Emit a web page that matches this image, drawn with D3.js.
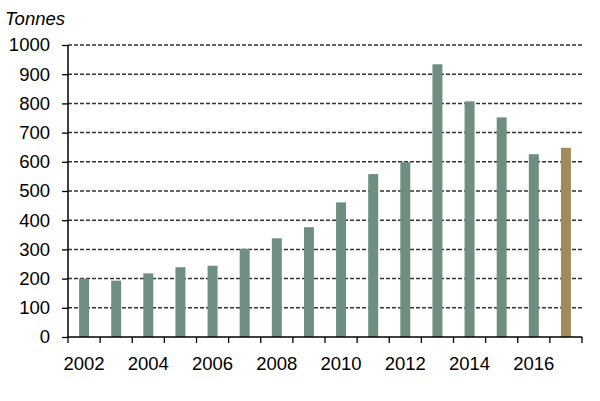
<!DOCTYPE html>
<html><head><meta charset="utf-8">
<script src="https://cdn.jsdelivr.net/npm/d3@7"></script>
<style>body{margin:0;background:#fff}svg{display:block}</style>
</head><body>
<svg id="c" width="600" height="401"></svg>
<script>
const years = [2002,2003,2004,2005,2006,2007,2008,2009,2010,2011,2012,2013,2014,2015,2016,2017];
const values = [200,193,218,239,244,302,338,376,461,558,599,934,807,752,626,648];
const highlight = [2017];
const yTicks = [0,100,200,300,400,500,600,700,800,900,1000];
const xLabels = [2002,2004,2006,2008,2010,2012,2014,2016];
const unitLabel = "Tonnes";

const svg = d3.select("#c");
const m = {l:68, r:18, t:45, b:64};
const W = 600, H = 401;
const x = d3.scaleBand().domain(years).range([m.l, W - m.r]).paddingInner(0.69).paddingOuter(0.345);
const xb = d3.scaleBand().domain(years).range([m.l, W - m.r]);
const y = d3.scaleLinear().domain([0,1000]).range([H - m.b, m.t]);
const font = "Liberation Sans, Arial, sans-serif";
const fs = 18.5;

// gridlines
svg.append("g").selectAll("line").data(yTicks.filter(d=>d>0)).join("line")
  .attr("x1", m.l).attr("x2", W - m.r)
  .attr("y1", d=>y(d)).attr("y2", d=>y(d))
  .attr("stroke", "#333").attr("stroke-width", 1.5).attr("stroke-dasharray", "4,2");

// bars
svg.append("g").selectAll("rect").data(years).join("rect")
  .attr("x", d=>x(d)).attr("width", x.bandwidth())
  .attr("y", (d,i)=>y(values[i])).attr("height", (d,i)=>y(0)-y(values[i]))
  .attr("fill", d=>highlight.includes(d) ? "#a08c5a" : "#6e8e80");

// y axis
const ya = svg.append("g").attr("transform", `translate(${m.l},0)`)
  .call(d3.axisLeft(y).tickValues(yTicks).tickSize(6).tickPadding(12).tickFormat(d3.format("d")));
ya.select(".domain").attr("stroke","#000").attr("stroke-width",1.5).attr("d", `M0,${y(0)}V${y(1000)}`);
ya.selectAll(".tick line").attr("stroke","#000").attr("stroke-width",1.3);
ya.selectAll("text").attr("font-family", font).attr("font-size", fs).attr("fill","#000");

// x axis
const xa = svg.append("g").attr("transform", `translate(0,${y(0)})`);
xa.append("line").attr("x1", m.l).attr("x2", W - m.r).attr("stroke","#000").attr("stroke-width",1.5);
const bounds = years.map(d=>xb(d)).concat([xb(years[years.length-1]) + xb.bandwidth()]);
xa.selectAll("line.t").data(bounds).join("line").attr("class","t")
  .attr("x1", d=>d).attr("x2", d=>d).attr("y1",0).attr("y2",6)
  .attr("stroke","#000").attr("stroke-width",1.3);
xa.selectAll("text").data(xLabels).join("text")
  .attr("x", d=>xb(d) + xb.bandwidth()/2).attr("y", 33)
  .attr("text-anchor","middle").attr("font-family", font).attr("font-size", fs).attr("fill","#000")
  .text(d=>d);

svg.append("text").attr("x", 5).attr("y", 25).attr("font-family", font).attr("font-size", fs)
  .attr("font-style","italic").attr("fill","#000").text(unitLabel);
</script>
</body></html>
